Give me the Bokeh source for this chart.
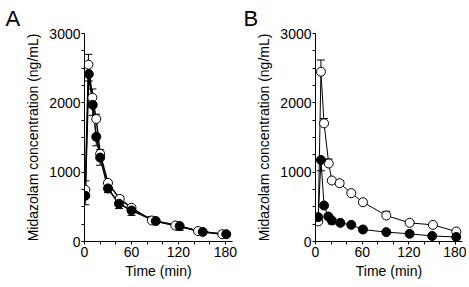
from bokeh.plotting import figure
from bokeh.layouts import row
from bokeh.models import (ColumnDataSource, Range1d, FixedTicker, Whisker, TeeHead)
from bokeh.embed import file_html
from bokeh.resources import INLINE

# ---- data ----
# Panel A
a_open_t = [1, 5, 10, 15, 20, 30, 45, 60, 86, 116, 145, 176]
a_open_c = [745, 2550, 2075, 1767, 1264, 845, 615, 486, 303, 231, 150, 105]
a_open_e = [130, 150, 125, 70, 60, 30, 40, 30, 57, 20, 15, 10]
a_closed_t = [1, 5.5, 10.5, 15, 20, 30, 44, 60, 91, 121.5, 151, 181]
a_closed_c = [660, 2415, 1970, 1510, 1210, 765, 545, 447, 295, 222, 138, 105]
a_closed_e = [130, 100, 150, 130, 110, 60, 70, 70, 20, 60, 20, 10]
# Panel B
b_open_t = [3.5, 7, 11, 17, 21, 31, 46, 61, 91, 121, 151, 181]
b_open_c = [290, 2448, 1704, 1125, 880, 841, 697, 567, 375, 269, 240, 144]
b_open_e = [40, 170, 70, 65, 20, 40, 30, 30, 60, 30, 20, 20]
b_closed_t = [3.5, 7, 11, 16.5, 21, 32, 46, 61, 91, 121, 150, 181]
b_closed_c = [351, 1176, 519, 360, 303, 269, 240, 173, 135, 111, 80, 65]
b_closed_e = [60, 156, 30, 30, 50, 30, 20, 20, 15, 15, 10, 10]

x_ticks = [0, 60, 120, 180]
x_minor = [20, 40, 80, 100, 140, 160]
y_ticks = [0, 1000, 2000, 3000]
y_minor = [250, 500, 750, 1250, 1500, 1750, 2250, 2500, 2750]

FONT = "Liberation Sans"


def make_panel(letter, o_t, o_c, o_e, c_t, c_c, c_e, lb, rb, fw, lw, letter_x):
    p = figure(frame_width=fw, frame_height=208, output_backend="svg",
               toolbar_location=None, x_range=Range1d(0, 189), y_range=Range1d(0, 3000),
               min_border_left=lb, min_border_right=rb, min_border_top=33, min_border_bottom=39,
               title=letter)
    p.title.align = "left"
    p.title.offset = letter_x
    p.title.standoff = 5
    p.title.text_font = FONT
    p.title.text_font_size = "22px"
    p.title.text_font_style = "normal"
    p.title.text_color = "black"
    p.outline_line_color = None
    p.grid.visible = False
    p.background_fill_color = "white"
    p.border_fill_color = "white"

    p.xaxis.ticker = FixedTicker(ticks=x_ticks, minor_ticks=x_minor)
    p.yaxis.ticker = FixedTicker(ticks=y_ticks, minor_ticks=y_minor)
    for ax in (p.xaxis[0], p.yaxis[0]):
        ax.major_tick_in = 0
        ax.major_tick_out = 3
        ax.minor_tick_in = 0
        ax.minor_tick_out = 3
        ax.axis_line_color = "black"
        ax.major_tick_line_color = "black"
        ax.minor_tick_line_color = "black"
        ax.axis_line_width = 1
        ax.major_label_text_font = FONT
        ax.major_label_text_font_size = "14px"
        ax.major_label_text_color = "black"
        ax.axis_label_text_font = FONT
        ax.axis_label_text_font_size = "14px"
        ax.axis_label_text_font_style = "normal"
        ax.axis_label_text_color = "black"
    p.xaxis.axis_label = "Time (min)"
    p.yaxis.axis_label = "Midazolam concentration (ng/mL)"
    p.xaxis.major_label_standoff = 2
    p.xaxis.axis_label_standoff = 3
    p.yaxis.major_label_standoff = 1
    p.yaxis.axis_label_standoff = 5

    so = ColumnDataSource(dict(t=o_t, c=o_c, lo=o_c, hi=[v + e for v, e in zip(o_c, o_e)]))
    sc = ColumnDataSource(dict(t=c_t, c=c_c, lo=[v - e for v, e in zip(c_c, c_e)], hi=c_c))

    p.line("t", "c", source=so, line_color="black", line_width=lw)
    p.line("t", "c", source=sc, line_color="black", line_width=lw)

    wo = Whisker(source=so, base="t", lower="lo", upper="hi", dimension="height",
                 line_color="black", line_width=1,
                 upper_head=TeeHead(size=8, line_color="black", line_width=1), lower_head=None)
    wc = Whisker(source=sc, base="t", lower="lo", upper="hi", dimension="height",
                 line_color="black", line_width=1,
                 lower_head=TeeHead(size=8, line_color="black", line_width=1), upper_head=None)
    p.add_layout(wo)
    p.add_layout(wc)

    p.scatter("t", "c", source=so, marker="circle", size=9, fill_color="white",
              line_color="black", line_width=1)
    p.scatter("t", "c", source=sc, marker="circle", size=9, fill_color="black",
              line_color="black", line_width=1)
    return p


pA = make_panel("A", a_open_t, a_open_c, a_open_e, a_closed_t, a_closed_c, a_closed_e,
                lb=84, rb=7, fw=148, lw=1.5, letter_x=-79)
pB = make_panel("B", b_open_t, b_open_c, b_open_e, b_closed_t, b_closed_c, b_closed_e,
                lb=76, rb=4, fw=147, lw=1, letter_x=-72)

layout = row(pA, pB)
open("out.html", "w").write(file_html(layout, INLINE))
